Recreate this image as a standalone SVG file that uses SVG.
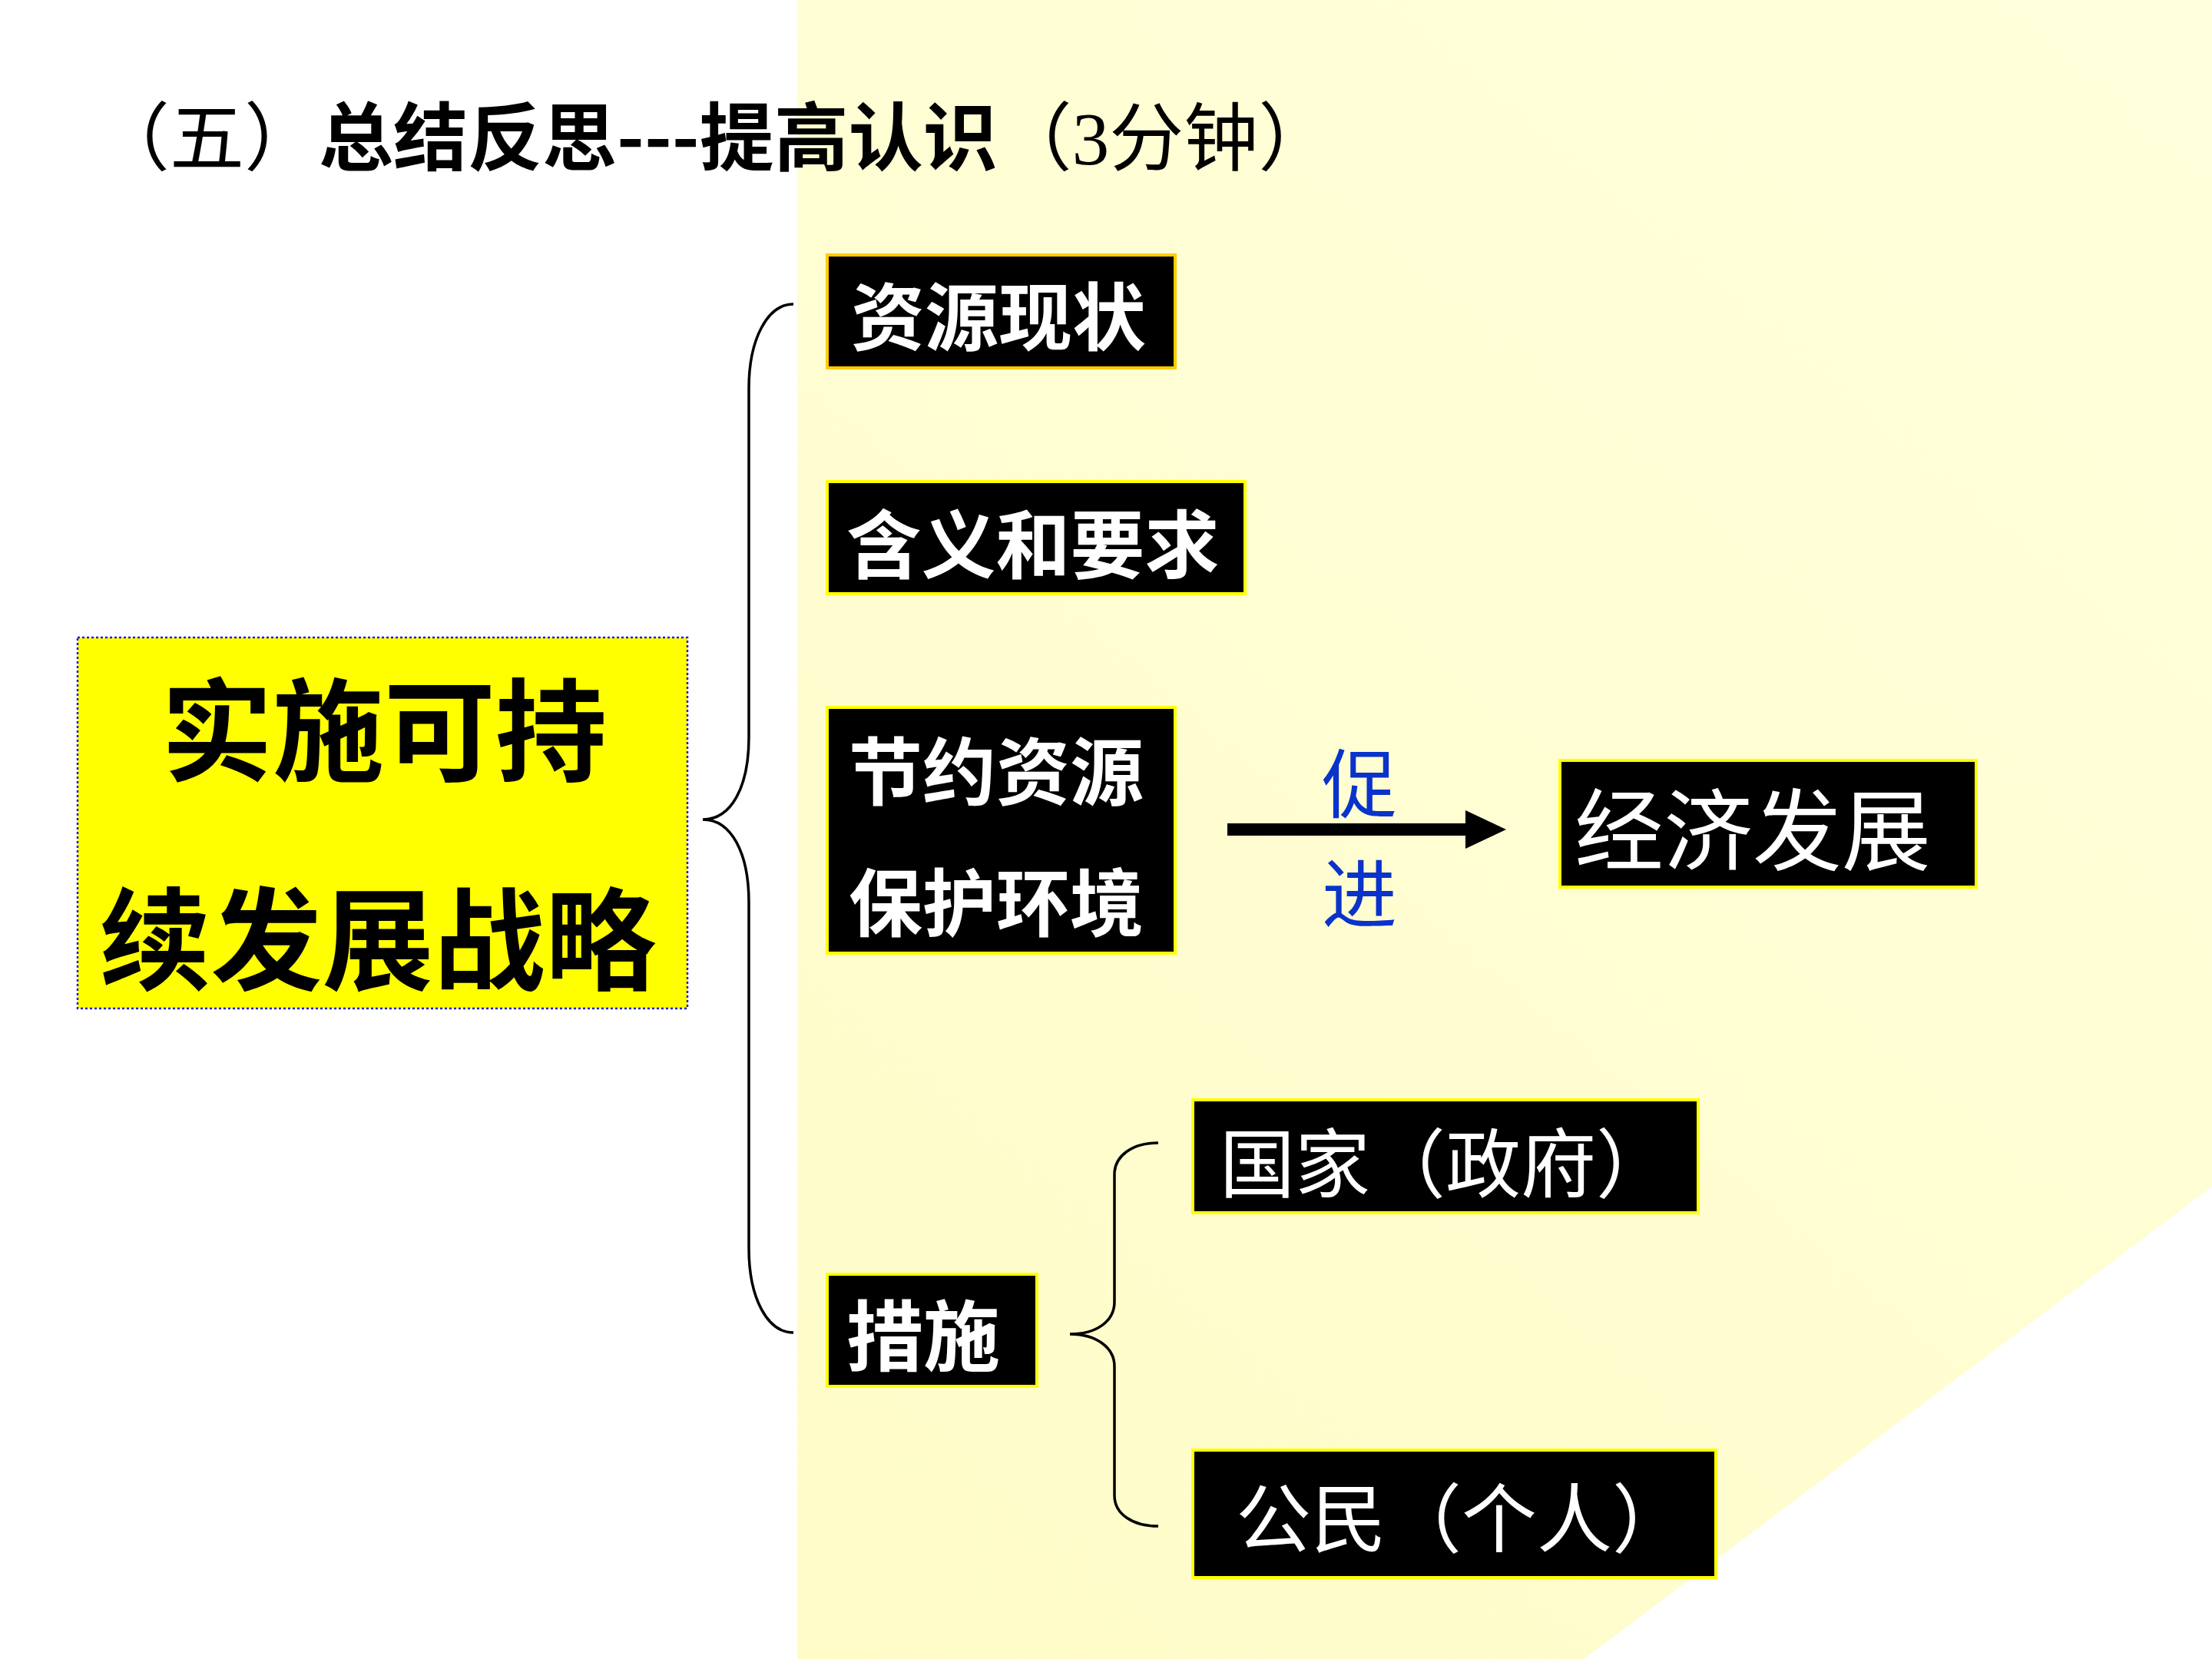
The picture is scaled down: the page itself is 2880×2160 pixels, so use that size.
<svg xmlns="http://www.w3.org/2000/svg" width="2880" height="2160" viewBox="0 0 2880 2160">
<defs>
<linearGradient id="bg" x1="1038" y1="2160" x2="2880" y2="0" gradientUnits="userSpaceOnUse">
<stop offset="0" stop-color="#FFFCC8"/>
<stop offset="1" stop-color="#FFFFDC"/>
</linearGradient>
<style>
.cjk{font-family:"Noto Sans CJK SC","Noto Sans CJK TC",sans-serif;}
.box{fill:#000000;stroke:#FFFF00;stroke-width:4;}
.wt{fill:#FFFFFF;font-family:"Noto Sans CJK SC","Noto Sans CJK TC",sans-serif;}
.b{font-weight:bold;}
.brace{fill:none;stroke:#000000;stroke-width:3.5;}
.blue{fill:#0A33CC;font-family:"Noto Sans CJK SC",sans-serif;font-size:98px;}
</style>
</defs>
<rect x="0" y="0" width="2880" height="2160" fill="#FFFFFF"/>
<polygon points="1038,0 2880,0 2880,1545 2062,2160 1038,2160" fill="url(#bg)"/>

<g id="title">
<text x="124" y="214" font-size="97" class="cjk" fill="#000000"><tspan font-family="Liberation Serif, Noto Sans CJK SC, serif">（五）</tspan><tspan font-weight="bold">总结反思---提高认识</tspan><tspan font-family="Liberation Serif, Noto Sans CJK SC, serif">（3分钟）</tspan></text>
</g>

<g id="connectors">
<path class="brace" d="M1033,396 C1000,396 975,440 975,506 L975,960 C975,1025 952,1067 915,1067 C952,1067 975,1110 975,1175 L975,1625 C975,1692 1000,1735 1033,1735"/>
<path class="brace" d="M1508,1488 C1474,1488 1451,1505 1451,1529 L1451,1695 C1451,1720 1428,1737 1393,1737 C1428,1737 1451,1755 1451,1779 L1451,1947 C1451,1971 1474,1987 1508,1987"/>
<rect x="1598" y="1072" width="314" height="16" fill="#000000"/>
<polygon points="1908,1055 1961,1080 1908,1105" fill="#000000"/>
<text class="blue" x="1770" y="1057" text-anchor="middle">促</text>
<text class="blue" x="1770" y="1200" text-anchor="middle">进</text>
</g>

<g id="node-main">
<rect x="101" y="830" width="794" height="483" fill="#FFFF00" stroke="#1A1AE6" stroke-width="2.5" stroke-dasharray="3 3"/>
<text x="500" y="1006" font-size="145" class="cjk b" fill="#000000" text-anchor="middle">实施可持</text>
<text x="492" y="1278" font-size="145" class="cjk b" fill="#000000" text-anchor="middle">续发展战略</text>
</g>

<g id="node-ziyuan">
<rect x="1077" y="332" width="453" height="147" class="box" style="stroke:#FFCC00"/>
<text x="1300" y="448" font-size="96" class="wt b" text-anchor="middle">资源现状</text>
</g>

<g id="node-hanyi">
<rect x="1077" y="627" width="544" height="146" class="box"/>
<text x="1345" y="745" font-size="97" class="wt b" text-anchor="middle">含义和要求</text>
</g>

<g id="node-jieyue">
<rect x="1077" y="921" width="453" height="320" class="box"/>
<text x="1297" y="1040" font-size="96" class="wt b" text-anchor="middle">节约资源</text>
<text x="1297" y="1211" font-size="96" class="wt b" text-anchor="middle">保护环境</text>
</g>

<g id="node-jingji">
<rect x="2031" y="990" width="542" height="165" class="box"/>
<text x="2282" y="1124" font-size="116" class="wt" text-anchor="middle">经济发展</text>
</g>

<g id="node-cuoshi">
<rect x="1077" y="1659" width="273" height="146" class="box"/>
<text x="1202" y="1777" font-size="100" class="wt b" text-anchor="middle">措施</text>
</g>

<g id="node-guojia">
<rect x="1553" y="1432" width="658" height="147" class="box"/>
<text x="1588" y="1551" font-size="98" class="wt">国家（政府）</text>
</g>

<g id="node-gongmin">
<rect x="1553" y="1888" width="681" height="166" class="box"/>
<text x="1609" y="2013" font-size="98" class="wt">公民（个人）</text>
</g>
</svg>
